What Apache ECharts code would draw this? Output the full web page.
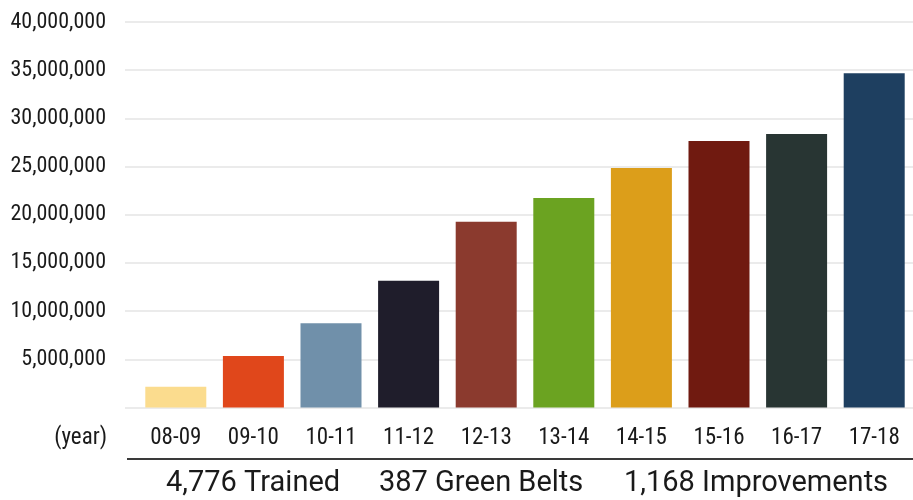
<!DOCTYPE html>
<html>
<head>
<meta charset="utf-8">
<script src="https://cdn.jsdelivr.net/npm/echarts@6/dist/echarts.min.js"></script>
<style>
    html, body { margin: 0; padding: 0; background: #fff; }
    #chart { width: 913px; height: 500px; }
</style>
</head>
<body>
<div id="chart"></div>
<script>
// fiscal years and savings per year
const years = ['08-09', '09-10', '10-11', '11-12', '12-13', '13-14', '14-15', '15-16', '16-17', '17-18'];
const savings = [2160000, 5340000, 8730000, 13150000, 19270000, 21730000, 24840000, 27650000, 28370000, 34670000];
const barColors = ['#FBDC8E', '#E0471B', '#7090AA', '#1F1D2B', '#8B3A2E', '#6BA321', '#DC9E1A', '#701A10', '#283533', '#1E3F60'];
const yTicks = [0, 5000000, 10000000, 15000000, 20000000, 25000000, 30000000, 35000000, 40000000];
const footerItems = ['4,776 Trained', '387 Green Belts', '1,168 Improvements'];
const footerX = [166, 379, 624];

const FONT = '"Roboto Condensed", "DejaVu Sans Condensed", sans-serif';
const FOOTER_FONT = 'Roboto, "Noto Sans", sans-serif';

const chart = echarts.init(document.getElementById('chart'));

const option = {
    backgroundColor: '#fff',
    animation: false,
    grid: [
        // bars
        { left: 137, right: -2, top: 22, bottom: 92.5 },
        // gridlines + y labels (start further left than the bars)
        { left: 125, right: 0, top: 22, bottom: 92.5 }
    ],
    xAxis: [
        {
            type: 'category',
            gridIndex: 0,
            data: years,
            axisLine: { show: false },
            axisTick: { show: false },
            axisLabel: {
                margin: 19,
                color: '#1a1a1a',
                fontFamily: FONT,
                fontSize: 23
            }
        },
        {
            type: 'value',
            gridIndex: 1,
            show: false
        }
    ],
    yAxis: [
        {
            type: 'value',
            gridIndex: 0,
            min: yTicks[0],
            max: yTicks[yTicks.length - 1],
            interval: yTicks[1] - yTicks[0],
            show: false
        },
        {
            type: 'value',
            gridIndex: 1,
            min: yTicks[0],
            max: yTicks[yTicks.length - 1],
            interval: yTicks[1] - yTicks[0],
            axisLine: { show: false },
            axisTick: { show: false },
            splitLine: { lineStyle: { color: '#e4e4e4', width: 1.5 } },
            axisLabel: {
                margin: 19,
                color: '#1a1a1a',
                fontFamily: FONT,
                fontSize: 22,
                formatter: v => (v === 0 ? '' : v.toLocaleString('en-US'))
            }
        }
    ],
    series: [
        {
            type: 'bar',
            xAxisIndex: 0,
            yAxisIndex: 0,
            barWidth: 61,
            data: savings.map((v, i) => ({
                value: v,
                itemStyle: { color: barColors[i] }
            }))
        }
    ],
    graphic: [
        {
            type: 'text',
            x: 107,
            y: 438,
            style: {
                text: '(year)',
                font: '23px ' + FONT,
                fill: '#1a1a1a',
                align: 'right',
                verticalAlign: 'middle'
            }
        },
        {
            type: 'line',
            shape: { x1: 127, y1: 459, x2: 913, y2: 459 },
            style: { stroke: '#3a3a3a', lineWidth: 2 }
        }
    ].concat(footerItems.map((t, i) => ({
        type: 'text',
        x: footerX[i],
        y: 484,
        style: {
            text: t,
            font: '29px ' + FOOTER_FONT,
            fill: '#1a1a1a',
            align: 'left',
            verticalAlign: 'middle'
        }
    })))
};

chart.setOption(option);
window.addEventListener('resize', () => chart.resize());
</script>
</body>
</html>
